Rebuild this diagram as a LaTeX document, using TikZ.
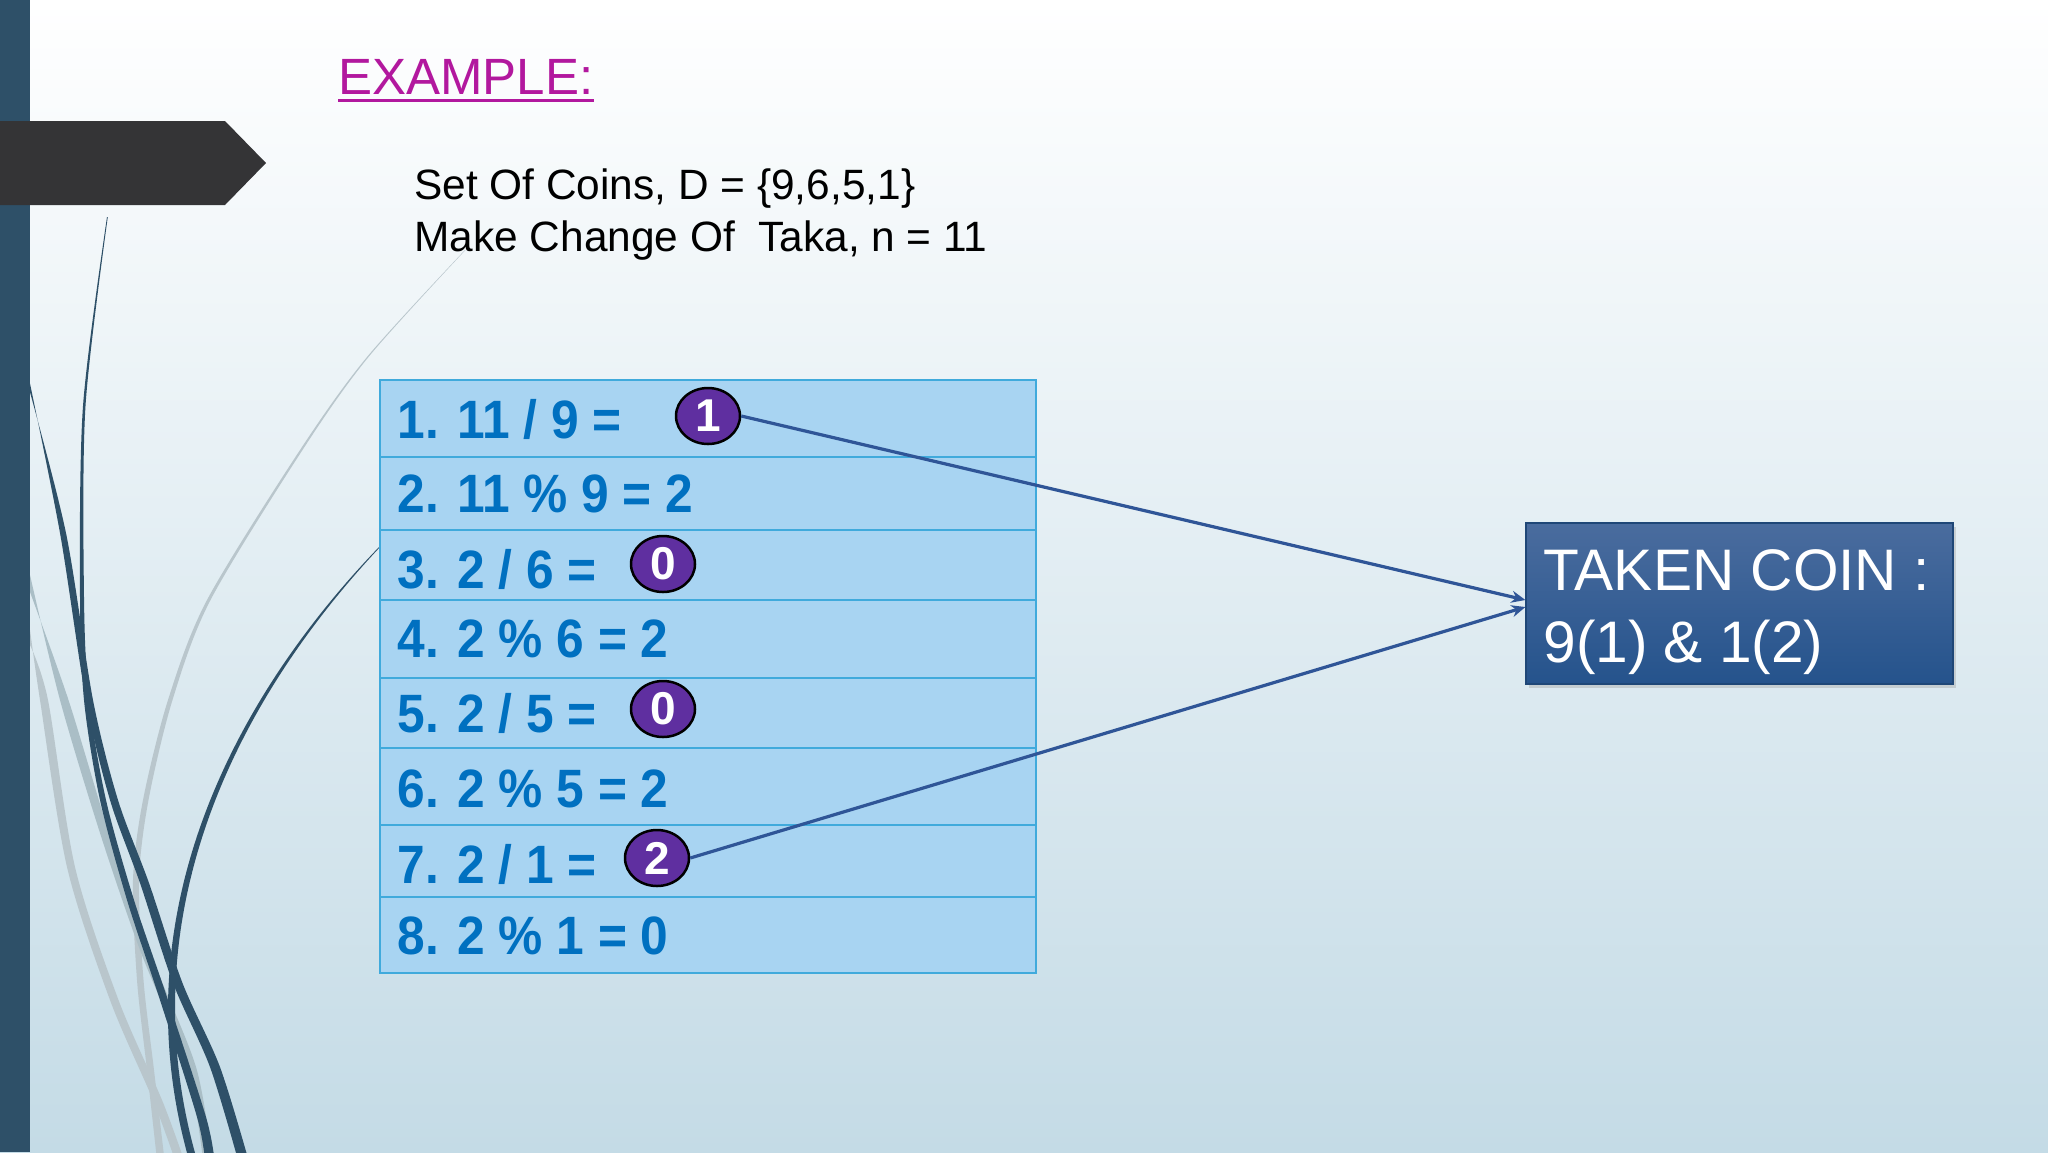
\documentclass[tikz,border=0pt]{standalone}
\usepackage{fontspec}
\setmainfont{Liberation Sans}
\newfontfamily\tabfont[FakeStretch=0.92]{Liberation Sans}
\usetikzlibrary{arrows.meta,shapes.geometric,shadows}
\definecolor{barcol}{RGB}{46,80,104}
\definecolor{bancol}{RGB}{52,52,54}
\definecolor{bgbot}{RGB}{196,219,230}
\definecolor{bgmid}{RGB}{230,240,245}
\definecolor{grayc}{RGB}{170,190,198}
\definecolor{grayd}{RGB}{185,198,204}
\definecolor{titlecol}{RGB}{178,24,158}
\definecolor{tabfill}{RGB}{168,212,242}
\definecolor{tabline}{RGB}{64,170,220}
\definecolor{tabtext}{RGB}{0,112,192}
\definecolor{coinfill}{RGB}{95,47,160}
\definecolor{boxtop}{RGB}{74,108,158}
\definecolor{boxbot}{RGB}{37,83,140}
\definecolor{arrowcol}{RGB}{47,85,151}
\begin{document}
\begin{tikzpicture}[x=0.5pt,y=-0.5pt,
  rowtext/.style={anchor=base west, inner sep=0, text=tabtext, font=\tabfont\bfseries\fontsize{27pt}{32pt}\selectfont},
  coin/.style={ellipse, minimum width=32pt, minimum height=28pt, inner sep=0, fill=coinfill, draw=black, line width=1.25pt, text=white, font=\bfseries\fontsize{23pt}{26pt}\selectfont},
  conn/.style={draw=arrowcol, line width=1.6pt, -{Stealth[length=7pt,width=6pt]}},
  infotext/.style={anchor=base west, inner sep=0, text=black, font=\fontsize{21.2pt}{26pt}\selectfont},
  boxtext/.style={anchor=base west, inner sep=0, text=white, font=\fontsize{29.3pt}{36pt}\selectfont},
  takenbox/.style={rectangle, minimum width=213.5pt, minimum height=80.5pt, inner sep=0, top color=boxtop, bottom color=boxbot, draw=boxbot!85!black, line width=0.6pt, drop shadow={shadow xshift=1.5pt, shadow yshift=-2pt, fill=black!40, opacity=0.35}}
]
\useasboundingbox (0,0) rectangle (2048,1152);
% background
\shade[top color=white, middle color=bgmid, bottom color=bgbot] (0,0) rectangle (2048,1152);
% decorative curves
\fill[grayd] plot[smooth] coordinates {(465,250) (367,357) (300,450) (207,600) (168,700) (143,800) (133,880) (137,980) (147,1070) (157,1160)}
  -- plot[smooth] coordinates {(164.5,1160) (154,1070) (143.5,980) (139,880) (148.5,800) (172.5,700) (210.5,600) (302.5,450) (368.5,357) (465.5,250)} -- cycle;
\fill[grayd] plot[smooth] coordinates {(30,630) (40,700) (67,867) (110,1000) (153,1100) (175,1160)}
  -- plot[smooth] coordinates {(184,1160) (162,1100) (118.5,1000) (75,867) (48,700) (30,645)} -- cycle;
\fill[grayc] plot[smooth] coordinates {(30,575) (60,700) (100,833) (140,950) (187,1067) (203,1160)}
  -- plot[smooth] coordinates {(212,1160) (196,1067) (149,950) (109,833) (68.5,700) (30,592)} -- cycle;
\fill[barcol] plot[smooth] coordinates {(107,217) (83,406) (80,597) (84,700) (100,800) (127,900) (160,1000) (197,1117) (205,1160)}
  -- plot[smooth] coordinates {(214.5,1160) (206,1117) (168,1000) (134,900) (106,800) (89,700) (84,597) (85.5,406) (107.8,217)} -- cycle;
\fill[barcol] plot[smooth] coordinates {(28,374) (60,533) (86,700) (110,800) (140,883) (173,983) (210,1067) (238,1160)}
  -- plot[smooth] coordinates {(248.5,1160) (220,1067) (182.5,983) (149,883) (118,800) (93,700) (66,533) (28,385)} -- cycle;
\fill[barcol] (380,546) .. controls (250,680) and (115,900) .. (189,1160)
  -- (197,1160) .. controls (122,900) and (253,682) .. (381,546) -- cycle;
% left bar and banner
\fill[barcol] (0,0) rectangle (30,1152);
\fill[bancol] (0,121) -- (225,121) -- (266,163) -- (225,205) -- (0,205) -- cycle;
% title
\node[anchor=base west, inner sep=0, text=titlecol, font=\fontsize{25.5pt}{30pt}\selectfont] (title) at (338,94) {EXAMPLE:};
\draw[titlecol, line width=1.5pt] ([yshift=-3pt]title.base west) -- ([yshift=-3pt]title.base east);
\node[infotext] (info1) at (414,199) {Set Of Coins, D = \{9,6,5,1\}};
\node[infotext] (info2) at (414,251) {Make Change Of~ Taka, n = 11};
% table
\fill[tabfill] (380,380) rectangle (1036,973);
\foreach \yy in {457.4,530.2,599.9,677.7,748.2,825.2,896.8}
  \draw[tabline, line width=1pt] (380,\yy) -- (1036,\yy);
\draw[tabline, line width=1pt] (380,380) rectangle (1036,973);
\node[rowtext] (t1) at (397,438) {1. 11 / 9 =};
\node[rowtext] (t2) at (397,512) {2. 11 \% 9 = 2};
\node[rowtext] (t3) at (397,588) {3. 2 / 6 =};
\node[rowtext] (t4) at (397,657) {4. 2 \% 6 = 2};
\node[rowtext] (t5) at (397,732) {5. 2 / 5 =};
\node[rowtext] (t6) at (397,807) {6. 2 \% 5 = 2};
\node[rowtext] (t7) at (397,883) {7. 2 / 1 =};
\node[rowtext] (t8) at (397,954) {8. 2 \% 1 = 0};
% coins
\node[coin] (c1) at (708,416) {1};
\node[coin] (c3) at (663,564) {0};
\node[coin] (c5) at (663,709) {0};
\node[coin] (c7) at (657,858) {2};
% result box
\node[takenbox] (taken) at (1739.5,603.5) {};
\node[boxtext] (tk1) at (1543,590) {TAKEN COIN :};
\node[boxtext] (tk2) at (1543,662) {9(1) \& 1(2)};
% connectors
\draw[conn] (c1.east) -- ([yshift=1.75pt]taken.west);
\draw[conn] (c7.east) -- ([yshift=-1.75pt]taken.west);
\end{tikzpicture}
\end{document}
